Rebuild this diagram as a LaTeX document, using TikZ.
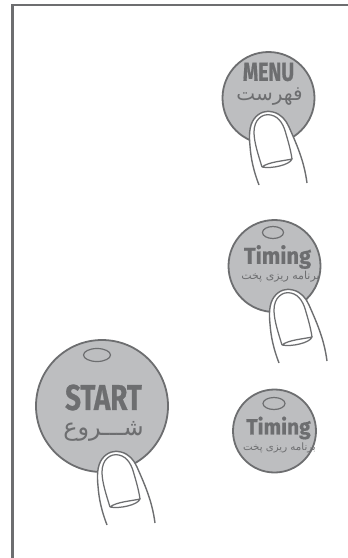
\documentclass[tikz,border=0pt]{standalone}
\usepackage{fontspec}
\setmainfont{Fira Sans}
\newfontfamily\latinb[FakeStretch=0.77,FakeBold=0.6]{Fira Sans Bold}
\newfontfamily\latinm[FakeStretch=0.75,FakeBold=0.6]{Fira Sans Bold}
\newfontfamily\latinc[FakeStretch=0.95,FakeBold=0.6]{Fira Sans Bold}
\newfontfamily\arabicfont[Script=Arabic]{DejaVu Sans}
\TeXXeTstate=1
\definecolor{lineg}{HTML}{6D6E70}
\definecolor{fillg}{HTML}{BDBEC0}
\usetikzlibrary{shapes.geometric}
\tikzset{
  x=1pt,y=-1pt,
  panel/.style={draw=lineg,line width=2.2pt},
  btn/.style={circle,draw=lineg,fill=fillg,line width=1.8pt,inner sep=0pt,outer sep=0pt},
  led/.style={ellipse,draw=lineg,line width=1.2pt,inner sep=0pt,outer sep=0pt},
  lab/.style={text=lineg,inner sep=0pt,anchor=center},
  fing/.style={draw=lineg,line width=1.4pt,fill=white,line join=round},
  fingin/.style={draw=lineg,line width=1.25pt,line join=round},
}
\newcommand{\fingerat}[2]{%
\begin{scope}[shift={(#1,#2)}]
  \path[fing] (-16,45) .. controls (-21,32) and (-24,20) .. (-25,6)
     .. controls (-26,-4) and (-26,-14) .. (-21,-21)
     .. controls (-16,-28) and (-8,-30) .. (-2,-28)
     .. controls (6,-26) and (11,-20) .. (14,-13)
     .. controls (21,3) and (29,20) .. (32,43);
  \path[fingin] (-13,27) .. controls (-17,14) and (-21,2) .. (-21,-8)
     .. controls (-21,-20) and (-13,-27) .. (-4,-25)
     .. controls (5,-23) and (9,-14) .. (11,-6)
     .. controls (14,4) and (16,12) .. (17,19);
  \path[fingin] (-13,27) .. controls (-7,22) and (8,21) .. (17,19)
     .. controls (15,25) and (-4,29) .. (-13,27);
\end{scope}}
\begin{document}
\begin{tikzpicture}
\useasboundingbox (0,0) rectangle (348,558);
\coordinate (p1) at (12.5,558);
\coordinate (p2) at (12.5,5);
\coordinate (p3) at (348,5);
\draw[panel] (p1) -- (p2) -- (p3);
% MENU
\node[btn,minimum size=92pt] (menu) at (268.5,98) {};
\node[lab,font=\latinm\fontsize{26}{26}\selectfont] (menut) at (268.5,72) {MENU};
\node[lab,font=\arabicfont\fontsize{20}{20}\selectfont] (menua) at (269.5,97) {\beginR فهرست\endR};
\fingerat{275}{140}
% Timing 1
\node[btn,minimum size=92pt] (tim1) at (274.5,266) {};
\node[led,minimum width=21pt,minimum height=12pt] (led1) at (273,232.5) {};
\node[lab,font=\latinc\fontsize{23}{23}\selectfont] (tim1t) at (277.5,257) {Timing};
\node[lab,font=\arabicfont\fontsize{11}{11}\selectfont] (tim1a) at (280.5,277) {\beginR برنامه ریزی پخت\endR};
\fingerat{295}{318}
% Timing 2
\node[btn,minimum size=83pt] (tim2) at (274.5,431) {};
\node[led,minimum width=22pt,minimum height=12pt] (led2) at (274,403.5) {};
\node[lab,font=\latinc\fontsize{22}{22}\selectfont] (tim2t) at (278.5,428) {Timing};
\node[lab,font=\arabicfont\fontsize{10.2}{10.2}\selectfont] (tim2a) at (279.5,448) {\beginR برنامه ریزی پخت\endR};
% START
\node[btn,minimum size=132pt] (start) at (102,406) {};
\node[led,minimum width=27pt,minimum height=13pt] (led3) at (97,355) {};
\node[lab,font=\latinb\fontsize{36}{36}\selectfont] (startt) at (103.5,397.5) {START};
\node[lab,font=\arabicfont\fontsize{24}{24}\selectfont] (starta) at (103.5,431) {\beginR شـــروع\endR};
\fingerat{123}{480}
\end{tikzpicture}
\end{document}
